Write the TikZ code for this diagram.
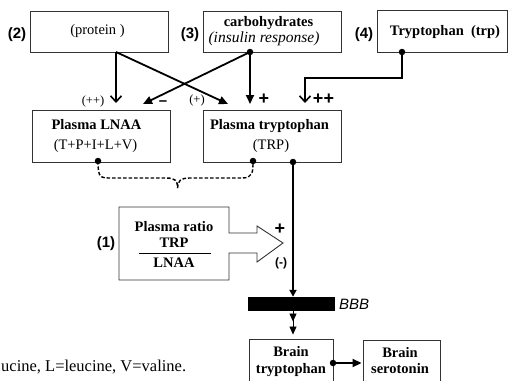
\documentclass[tikz,border=0pt]{standalone}
\usepackage{fontspec}
\setmainfont{Liberation Serif}
\newfontfamily\arialfont{Liberation Sans}
\usetikzlibrary{arrows.meta}
\newcommand\myboxfont{\fontsize{14.5}{20}\selectfont}
\begin{document}
\begin{tikzpicture}[x=1pt,y=-1pt,
  box/.style={draw=black!80, line width=0.9pt, inner sep=0pt},
  bt/.style={font=\myboxfont\bfseries, anchor=base, inner sep=0pt},
  rt/.style={font=\myboxfont, anchor=base, inner sep=0pt},
  num/.style={font=\arialfont\bfseries\fontsize{15}{18}\selectfont, inner sep=0pt},
  sgn/.style={font=\arialfont\bfseries\fontsize{18}{20}\selectfont, inner sep=0pt},
  smallsgn/.style={font=\fontsize{12.5}{14}\selectfont, inner sep=0pt},
  thickline/.style={line width=1.8pt},
  vtip/.style={-{Straight Barb[length=6pt,width=11pt,line width=1.6pt]}},
  ftip/.style={-{Triangle[length=9pt,width=8pt]}},
  dot/.style={circle, fill=black, inner sep=0pt, minimum size=6.5pt},
  bracedash/.style={line width=1.4pt, dash pattern=on 3.5pt off 2pt},
]
\useasboundingbox (0,0) rectangle (508,380);

% ---- boxes
\node[box, minimum width=138, minimum height=41] (protein) at (99,31.5) {};
\node[box, minimum width=138, minimum height=41] (carbo) at (272,31.5) {};
\node[box, minimum width=130, minimum height=42] (trpdiet) at (442,31) {};
\node[box, minimum width=138, minimum height=52] (lnaa) at (101,136) {};
\node[box, minimum width=138, minimum height=52] (ptrp) at (272,136) {};
\node[minimum width=110, minimum height=73, inner sep=0pt] (ratio) at (174,243.5) {};
\draw[box] (119,207) -- (229,207) -- (229,233) -- (257,233) -- (257,226) -- (283,243)
   -- (257,262) -- (257,253) -- (229,253) -- (229,280) -- (119,280) -- cycle;
\node[fill=black, minimum width=87, minimum height=14, inner sep=0pt] (bbb) at (291.5,304) {};
\node[box, minimum width=84, minimum height=70] (btrp) at (291,374) {};
\node[box, minimum width=77, minimum height=70] (bser) at (401.5,375) {};

% ---- texts
\node[rt] (tprotein) at (97.5,34.5) {(protein )};
\node[bt] (tcarbo1) at (268.5,26) {carbohydrates};
\node[rt, font=\fontsize{15.5}{18}\selectfont\itshape] (tcarbo2) at (264,42) {(insulin response)};
\node[bt] (ttrp) at (445,35) {Tryptophan\ \ (trp)};
\node[bt] (tlnaa1) at (96.5,129) {Plasma LNAA};
\node[rt] (tlnaa2) at (95.5,149) {(T+P+I+L+V)};
\node[bt] (tptrp1) at (269.5,129) {Plasma tryptophan};
\node[rt] (tptrp2) at (271,149) {(TRP)};
\node[bt] (tratio1) at (174,231) {Plasma ratio};
\node[bt] (tratio2) at (174,247) {TRP};
\draw[line width=0.8pt] (139,253) -- (211,253);
\node[bt] (tratio3) at (174,267) {LNAA};
\node[bt] (tbtrp1) at (291,356) {Brain};
\node[bt] (tbtrp2) at (291,373) {tryptophan};
\node[bt] (tbser1) at (400,357) {Brain};
\node[bt] (tbser2) at (400,373) {serotonin};
\node[font=\arialfont\itshape\fontsize{15}{18}\selectfont, anchor=base west, inner sep=0pt] (tbbb) at (339,309) {BBB};
\node[font=\fontsize{16.5}{19}\selectfont, anchor=base west, inner sep=0pt] (tfoot) at (1,371) {ucine, L=leucine, V=valine.};

% ---- numbers
\node[num] (n2) at (17,35) {(2)};
\node[num] (n3) at (190,35) {(3)};
\node[num] (n4) at (364,35) {(4)};
\node[num] (n1) at (106,244) {(1)};

% ---- signs
\node[smallsgn] (s1) at (93,101) {(++)};
\node[sgn, font=\arialfont\bfseries\fontsize{15}{18}\selectfont] (s2) at (163,103) {–};
\node[smallsgn] (s3) at (197,100) {(+)};
\node[sgn] (s4) at (264,99) {+};
\node[sgn] (s5) at (323.5,99) {++};
\node[sgn] (s6) at (280,229) {+};
\node[num, font=\arialfont\bfseries\fontsize{12}{14}\selectfont] (s7) at (281,263) {(-)};

% ---- connector points
\coordinate (pOut) at (116,52);
\coordinate (cOut) at (250,52);
\coordinate (tOut) at (402,52);
\coordinate (lnaaIn) at (116,103);
\coordinate (lnaaIn2) at (143,104);
\coordinate (ptrpIn1) at (228,104);
\coordinate (ptrpIn2) at (250,104);
\coordinate (ptrpIn3) at (305,103);
\coordinate (bend) at (402,78);
\coordinate (lnaaDot) at (98,161);
\coordinate (ptrpDot) at (253,161);
\coordinate (ptrpOut) at (293,162);
\coordinate (braceTip) at (177.5,188);
\coordinate (btrpOut) at (333,363);

% ---- connectors
\draw[thickline, vtip] (pOut) -- (lnaaIn);
\draw[thickline, ftip] (pOut) -- (ptrpIn1);
\draw[thickline, ftip] (cOut) -- (lnaaIn2);
\draw[thickline, ftip] (cOut) -- (ptrpIn2);
\draw[thickline, vtip] (tOut) -- (bend) -| (ptrpIn3);
\node[dot] at (cOut) {};
\node[dot] at (tOut) {};

\draw[bracedash] (lnaaDot) .. controls (98,178) and (100,178) .. (112,178) -- (166,178)
   .. controls (176,178) and (177.5,181) .. (braceTip);
\draw[bracedash] (braceTip) .. controls (178,181) and (180,178) .. (190,178) -- (242,178)
   .. controls (253,178) and (253,172) .. (ptrpDot);
\node[dot] at (lnaaDot) {};
\node[dot] at (ptrpDot) {};

\draw[thickline, -{Triangle[length=7pt,width=7pt]}] (ptrpOut) -- (bbb.north -| ptrpOut);
\node[dot] at (ptrpOut) {};
\draw[line width=0.8pt, -{Triangle[length=8pt,width=7pt,sep=5pt] Triangle[length=8pt,width=7pt]}, shorten >=4pt]
   (bbb.south -| ptrpOut) -- (btrp.north -| ptrpOut);

\draw[thickline, ftip, shorten >=1pt] (btrpOut) -- (bser.west |- btrpOut);
\node[dot] at (btrpOut) {};
\end{tikzpicture}
\end{document}
